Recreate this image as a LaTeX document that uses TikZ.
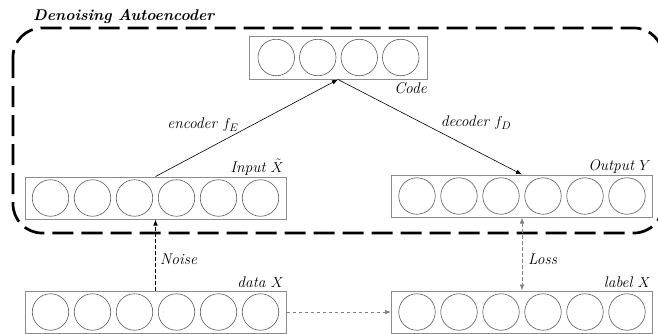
\documentclass[tikz,border=0pt]{standalone}
\usetikzlibrary{arrows.meta}
\begin{document}
\begin{tikzpicture}[x=1pt,y=-1pt,
  layer/.style={draw=black!45, line width=1pt, minimum width=261pt, minimum height=42pt, inner sep=0pt},
  unit/.style={circle, draw=black!65, line width=0.6pt, minimum size=36.5pt, inner sep=0pt},
  lab/.style={font=\fontsize{15.5}{17}\selectfont\itshape, inner sep=0pt},
  title/.style={font=\fontsize{15.6}{17}\selectfont\bfseries\itshape, inner sep=0pt},
  link/.style={line width=0.6pt, -{Latex[length=6pt,width=4.5pt]}},
  thindash/.style={dash pattern=on 3.5pt off 2.5pt},
  frame/.style={line width=2.7pt, dash pattern=on 21pt off 8pt, rounded corners=29pt}]
\useasboundingbox (0,0) rectangle (658,333);

% outer frame of the autoencoder
\draw[frame] (13,28) rectangle (663,233);
\node[title, anchor=base west] (ttl) at (33,20) {Denoising Autoencoder};

% code layer
\node[layer, minimum width=178pt, minimum height=43pt] (code) at (338,57.5) {};
\foreach \i in {0,...,3} \node[unit] (code\i) at ({276.25+41.5*\i},57.5) {};
\node[lab, anchor=base east] (codel) at (427,93) {Code};

% input, output, data and label layers
\node[layer] (input) at (155.5,198) {};
\foreach \i in {0,...,5} \node[unit] (input\i) at ({50.5+42*\i},198) {};
\node[lab, anchor=base east] (inputl) at (284,172) {Input $\tilde{X}$};

\node[layer] (output) at (522,196) {};
\foreach \i in {0,...,5} \node[unit] (output\i) at ({417+42*\i},196) {};
\node[lab, anchor=base east] (outputl) at (651,170) {Output $Y$};

\node[layer] (data) at (155.5,312) {};
\foreach \i in {0,...,5} \node[unit] (data\i) at ({50.5+42*\i},312) {};
\node[lab, anchor=base east] (datal) at (284,287) {data $X$};

\node[layer] (label) at (522,312) {};
\foreach \i in {0,...,5} \node[unit] (label\i) at ({417+42*\i},312) {};
\node[lab, anchor=base east] (labell) at (651,287) {label $X$};

% connectors
\draw[link] (input.north) -- (code.south);
\draw[link] (code.south) -- (output.north);
\node[lab] (enc) at (203,125) {encoder $f_E$};
\node[lab] (dec) at (476,123) {decoder $f_D$};

\draw[link, thindash] (data.north) -- (input.south);
\node[lab, anchor=base west] (noise) at (160,264) {Noise};

\draw[link, thindash, draw=black!50, {Latex[length=6pt,width=4.5pt]}-{Latex[length=6pt,width=4.5pt]}] (output.south) -- (label.north);
\node[lab, anchor=base west] (loss) at (528,264) {Loss};

\draw[link, thindash, draw=black!50] (data.east) -- (label.west);
\end{tikzpicture}
\end{document}
